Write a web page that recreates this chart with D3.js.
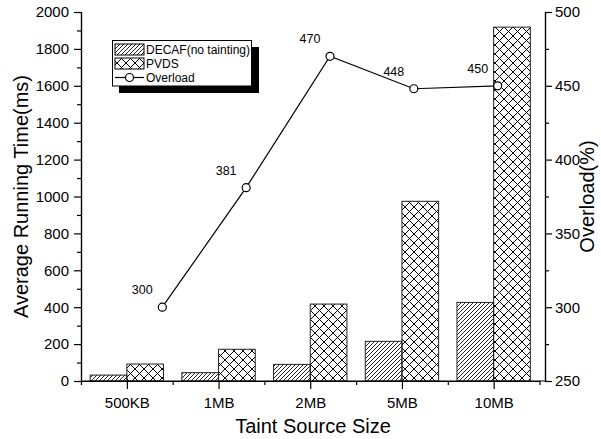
<!DOCTYPE html>
<html>
<head>
<meta charset="utf-8">
<script src="https://cdn.jsdelivr.net/npm/d3@7"></script>
<style>
  html, body { margin: 0; padding: 0; background: #fff; }
  svg { display: block; font-family: "Liberation Sans", Arial, sans-serif; }
</style>
</head>
<body>
<svg id="chart" width="601" height="439"></svg>
<script>
// ---- data ----
const categories = ["500KB", "1MB", "2MB", "5MB", "10MB"];
const decafValues = [32, 45, 90, 215, 426];
const pvdsValues = [92, 172, 417, 974, 1918];
const overloadValues = [300, 381, 470, 448, 450];
const leftTicks = [0, 200, 400, 600, 800, 1000, 1200, 1400, 1600, 1800, 2000];
const rightTicks = [250, 300, 350, 400, 450, 500];
const seriesNames = ["DECAF(no tainting)", "PVDS", "Overload"];

const svg = d3.select("#chart");
const plotLeft = 81, plotRight = 545, plotTop = 12, plotBottom = 381;

// scales
const x = d3.scaleLinear().domain([-0.5, 4.5]).range([plotLeft, 539.5]);
const xLine = d3.scaleLinear().domain([0, 4]).range([162.3, 497.7]);
const yL = d3.scaleLinear().domain([0, 2000]).range([plotBottom, plotTop]);
const yR = d3.scaleLinear().domain([250, 500]).range([plotBottom, plotTop]);
const barW = (x(1) - x(0)) * 0.4;

// patterns
const defs = svg.append("defs");
const pDiag = defs.append("pattern").attr("id", "diag")
  .attr("patternUnits", "userSpaceOnUse").attr("width", 4).attr("height", 4);
pDiag.append("path").attr("d", "M-1,1 L1,-1 M0,4 L4,0 M3,5 L5,3")
  .attr("stroke", "#000").attr("stroke-width", 0.85);
const pCross = defs.append("pattern").attr("id", "cross")
  .attr("patternUnits", "userSpaceOnUse").attr("width", 9).attr("height", 9);
pCross.append("path").attr("d", "M0,0 L9,9 M9,0 L0,9")
  .attr("stroke", "#000").attr("stroke-width", 1);

// bars
const gBars = svg.append("g");
gBars.selectAll("rect.decaf").data(decafValues).join("rect")
  .attr("class", "decaf")
  .attr("x", (d, i) => x(i) - barW)
  .attr("y", d => yL(d))
  .attr("width", barW)
  .attr("height", d => yL(0) - yL(d))
  .attr("fill", "url(#diag)").attr("stroke", "#222").attr("stroke-width", 1);
gBars.selectAll("rect.pvds").data(pvdsValues).join("rect")
  .attr("class", "pvds")
  .attr("x", (d, i) => x(i))
  .attr("y", d => yL(d))
  .attr("width", barW)
  .attr("height", d => yL(0) - yL(d))
  .attr("fill", "url(#cross)").attr("stroke", "#222").attr("stroke-width", 1);

// axes
const tickFont = 15;
// left axis
const gL = svg.append("g").attr("transform", `translate(${plotLeft},0)`);
gL.call(d3.axisLeft(yL).tickValues(leftTicks).tickSize(7).tickPadding(5).tickFormat(d3.format("d")));
gL.append("g").call(d3.axisLeft(yL).tickValues(d3.range(100, 2000, 200)).tickSize(4).tickFormat(""));
// right axis
const gR = svg.append("g").attr("transform", `translate(${plotRight},0)`);
gR.call(d3.axisRight(yR).tickValues(rightTicks).tickSize(7).tickPadding(3).tickFormat(d3.format("d")));
gR.append("g").call(d3.axisRight(yR).tickValues(d3.range(275, 500, 50)).tickSize(4).tickFormat(""));
// bottom axis
const gB = svg.append("g").attr("transform", `translate(0,${plotBottom})`);
gB.call(d3.axisBottom(x).tickValues(d3.range(categories.length)).tickSize(8).tickPadding(8)
  .tickFormat(i => categories[i]));
gB.append("g").call(d3.axisBottom(x).tickValues([-0.5, 0.5, 1.5, 2.5, 3.5]).tickSize(4).tickFormat(""));
gB.select(".domain").attr("d", `M${plotLeft},0H${plotRight}`);

svg.selectAll(".domain").attr("stroke", "#000").attr("stroke-width", 1.2);
svg.selectAll(".tick line").attr("stroke", "#000").attr("stroke-width", 1.2);
svg.selectAll(".tick text").attr("font-size", tickFont)
  .attr("font-family", "Liberation Sans, Arial, sans-serif").attr("fill", "#000");

// axis titles
svg.append("text").attr("transform", `translate(28,${(plotTop + plotBottom) / 2}) rotate(-90)`)
  .attr("text-anchor", "middle").attr("font-size", 20).text("Average Running Time(ms)");
svg.append("text").attr("transform", `translate(594,${(plotTop + plotBottom) / 2}) rotate(-90)`)
  .attr("text-anchor", "middle").attr("font-size", 20).text("Overload(%)");
svg.append("text").attr("x", (plotLeft + plotRight) / 2).attr("y", 433)
  .attr("text-anchor", "middle").attr("font-size", 20).text("Taint Source Size");

// overload line
const line = d3.line().x((d, i) => xLine(i)).y(d => yR(d));
svg.append("path").datum(overloadValues).attr("d", line)
  .attr("fill", "none").attr("stroke", "#000").attr("stroke-width", 1.2);
svg.selectAll("circle.pt").data(overloadValues).join("circle")
  .attr("class", "pt")
  .attr("cx", (d, i) => xLine(i)).attr("cy", d => yR(d)).attr("r", 4)
  .attr("fill", "#fff").attr("stroke", "#000").attr("stroke-width", 1.2);
svg.selectAll("text.lbl").data(overloadValues).join("text")
  .attr("class", "lbl")
  .attr("x", (d, i) => xLine(i) - 20).attr("y", d => yR(d) - 13)
  .attr("text-anchor", "middle").attr("font-size", 12.5).text(d => d);

// legend
const lg = svg.append("g");
lg.append("rect").attr("x", 119).attr("y", 47).attr("width", 140).attr("height", 46).attr("fill", "#000");
lg.append("rect").attr("x", 112.5).attr("y", 40.5).attr("width", 139).attr("height", 45.5)
  .attr("fill", "#fff").attr("stroke", "#000").attr("stroke-width", 1);
lg.append("rect").attr("x", 115).attr("y", 44).attr("width", 29).attr("height", 11)
  .attr("fill", "url(#diag)").attr("stroke", "#000").attr("stroke-width", 1);
lg.append("rect").attr("x", 115).attr("y", 58).attr("width", 29).attr("height", 11)
  .attr("fill", "url(#cross)").attr("stroke", "#000").attr("stroke-width", 1);
lg.append("line").attr("x1", 115).attr("x2", 144).attr("y1", 77.5).attr("y2", 77.5)
  .attr("stroke", "#000").attr("stroke-width", 1.2);
lg.append("circle").attr("cx", 129.5).attr("cy", 77.5).attr("r", 4)
  .attr("fill", "#fff").attr("stroke", "#000").attr("stroke-width", 1.2);
lg.selectAll("text").data(seriesNames).join("text")
  .attr("x", 146).attr("y", (d, i) => 54 + i * 14)
  .attr("font-size", 12).text(d => d);
</script>
</body>
</html>
